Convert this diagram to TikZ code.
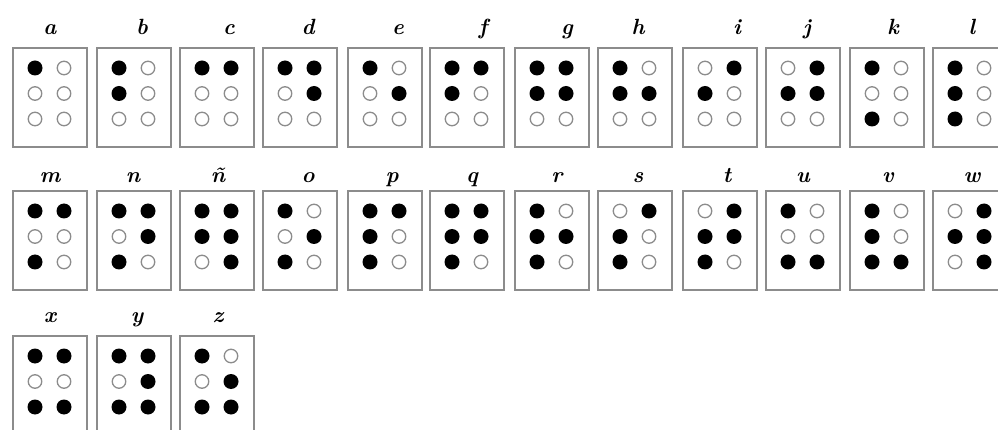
\documentclass[tikz,border=0pt]{standalone}
\usetikzlibrary{calc}
\tikzset{
  cellbox/.style={draw=black!45, line width=1.7pt, minimum width=74pt, minimum height=99pt, inner sep=0pt, anchor=north west},
  lbl/.style={anchor=base, inner sep=0pt, font=\fontsize{22}{26}\selectfont\bfseries\itshape},
  dotfull/.style={circle, fill=black, minimum size=15pt, inner sep=0pt},
  dotempty/.style={circle, draw=black!45, line width=1.3pt, minimum size=13.5pt, inner sep=0pt},
}
\newcommand\brcell[7]{%
  \node[cellbox] (#1) at (#3,#4) {};
  \node[lbl] (#1-l) at (#5,#6) {#2};
  \foreach \v [count=\k from 0] in {#7} {
    \pgfmathsetmacro\dx{#3+23+29*floor(\k/3)}
    \pgfmathsetmacro\dy{#4+21+25.5*mod(\k,3)}
    \ifnum\v=1
      \node[dotfull] (#1-d\k) at (\dx,\dy) {};
    \else
      \node[dotempty] (#1-d\k) at (\dx,\dy) {};
    \fi
  }
}
\begin{document}
\begin{tikzpicture}[x=1pt,y=-1pt]
\path[use as bounding box, fill=white] (0,0) rectangle (998,430);
% row 1
\brcell{ca}{a}{12}{47}{50}{35}{1,0,0,0,0,0}
\brcell{cb}{b}{96}{47}{142}{35}{1,1,0,0,0,0}
\brcell{cc}{c}{179}{47}{229}{35}{1,0,0,1,0,0}
\brcell{cd}{d}{262}{47}{308}{35}{1,0,0,1,1,0}
\brcell{ce}{e}{347}{47}{398}{35}{1,0,0,0,1,0}
\brcell{cf}{f}{429}{47}{483}{35}{1,1,0,1,0,0}
\brcell{cg}{g}{514}{47}{567}{35}{1,1,0,1,1,0}
\brcell{ch}{h}{597}{47}{638}{35}{1,1,0,0,1,0}
\brcell{ci}{i}{682}{47}{737}{35}{0,1,0,1,0,0}
\brcell{cj}{j}{765}{47}{807}{35}{0,1,0,1,1,0}
\brcell{ck}{k}{849}{47}{893}{35}{1,0,1,0,0,0}
\brcell{cl}{l}{932}{47}{972}{35}{1,1,1,0,0,0}
% row 2
\brcell{cm}{m}{12}{190}{50}{183}{1,0,1,1,0,0}
\brcell{cn}{n}{96}{190}{133}{183}{1,0,1,1,1,0}
\brcell{cnn}{ñ}{179}{190}{218}{183}{1,1,0,1,1,1}
\brcell{co}{o}{262}{190}{308}{183}{1,0,1,0,1,0}
\brcell{cp}{p}{347}{190}{392}{183}{1,1,1,1,0,0}
\brcell{cq}{q}{429}{190}{472}{183}{1,1,1,1,1,0}
\brcell{cr}{r}{514}{190}{557}{183}{1,1,1,0,1,0}
\brcell{cs}{s}{597}{190}{638}{183}{0,1,1,1,0,0}
\brcell{ct}{t}{682}{190}{727}{183}{0,1,1,1,1,0}
\brcell{cu}{u}{765}{190}{803}{183}{1,0,1,0,0,1}
\brcell{cv}{v}{849}{190}{888}{183}{1,1,1,0,0,1}
\brcell{cw}{w}{932}{190}{972}{183}{0,1,0,1,1,1}
% row 3
\brcell{cx}{x}{12}{335}{50}{322}{1,0,1,1,0,1}
\brcell{cy}{y}{96}{335}{137}{322}{1,0,1,1,1,1}
\brcell{cz}{z}{179}{335}{218}{322}{1,0,1,0,1,1}
\end{tikzpicture}
\end{document}
